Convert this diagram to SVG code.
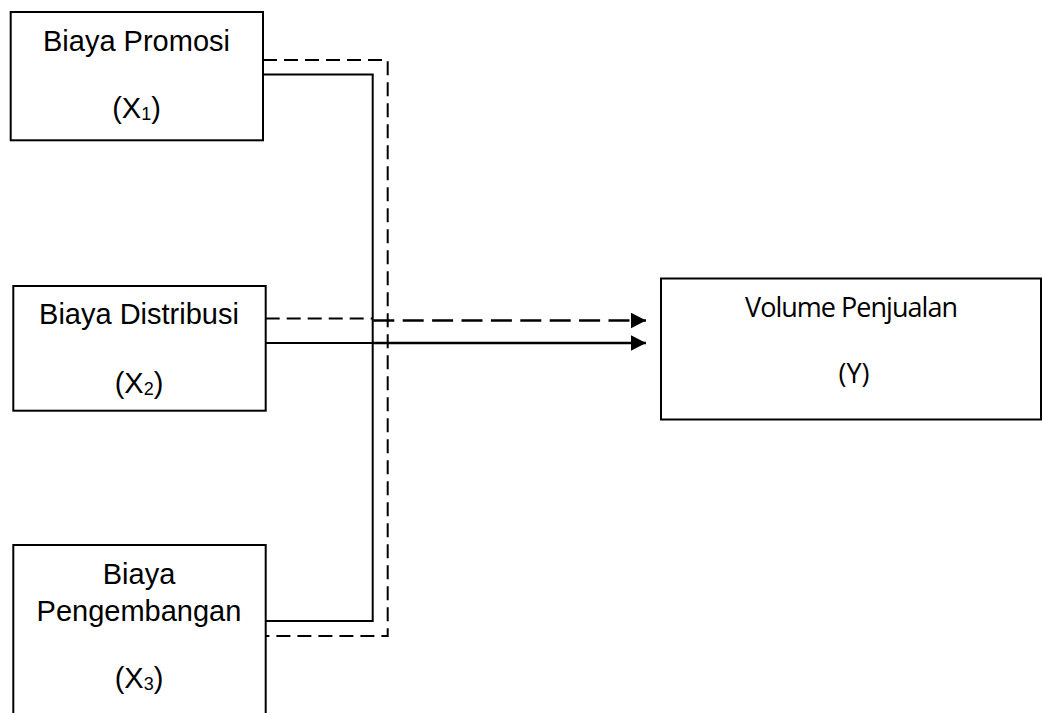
<svg xmlns="http://www.w3.org/2000/svg" width="1043" height="713" viewBox="0 0 1043 713">
<style>
.box{fill:#fff;stroke:#000;stroke-width:2}
.t{font-family:"Liberation Sans",Arial,sans-serif;font-size:29px;fill:#000;text-anchor:middle}
.tv{font-family:"Open Sans","Noto Sans",sans-serif;font-size:27px;fill:#000;text-anchor:middle}
.sub{font-size:18px}
.ln{fill:none;stroke:#000;stroke-width:2}
.dash{stroke-dasharray:14 7}
.thick{stroke-width:2.6}
.dash2{stroke-dasharray:21 8.4}
</style>
<defs>
<marker id="arr" markerUnits="userSpaceOnUse" markerWidth="16" markerHeight="16" refX="15" refY="7.8" orient="auto">
<path d="M0,0 L15,7.8 L0,15.6 z" fill="#000"/>
</marker>
</defs>
<rect width="1043" height="713" fill="#fff"/>
<g id="connectors">
<polyline class="ln" points="263,74.5 372.7,74.5 372.7,621 265.7,621"/>
<polyline class="ln dash" points="263,60 387.7,60 387.7,636 265.7,636"/>
<line class="ln dash" x1="265.7" y1="318.5" x2="373" y2="318.5"/>
<line class="ln thick dash2" x1="373.3" y1="320.5" x2="646" y2="320.5" marker-end="url(#arr)"/>
<line class="ln" x1="265.7" y1="343" x2="373" y2="343"/>
<line class="ln thick" x1="373" y1="343" x2="646" y2="343" marker-end="url(#arr)"/>
</g>
<g id="x1">
<rect class="box" x="10.7" y="12" width="252.3" height="128.3"/>
<text class="t" x="136.5" y="51">Biaya Promosi</text>
<text class="t" x="136.5" y="118">(X<tspan class="sub" dy="2">1</tspan><tspan dy="-2">)</tspan></text>
</g>
<g id="x2">
<rect class="box" x="13.3" y="286" width="252.4" height="124.7"/>
<text class="t" x="139" y="324">Biaya Distribusi</text>
<text class="t" x="139" y="393">(X<tspan class="sub" dy="2">2</tspan><tspan dy="-2">)</tspan></text>
</g>
<g id="x3">
<rect class="box" x="13.3" y="545" width="252.4" height="180"/>
<text class="t" x="139" y="584">Biaya</text>
<text class="t" x="139" y="621">Pengembangan</text>
<text class="t" x="139" y="688">(X<tspan class="sub" dy="2">3</tspan><tspan dy="-2">)</tspan></text>
</g>
<g id="y">
<rect class="box" x="661" y="278.5" width="380" height="141"/>
<text class="tv" x="851.5" y="317" textLength="213" lengthAdjust="spacing">Volume Penjualan</text>
<text class="tv" x="854" y="383">(Y)</text>
</g>
</svg>
